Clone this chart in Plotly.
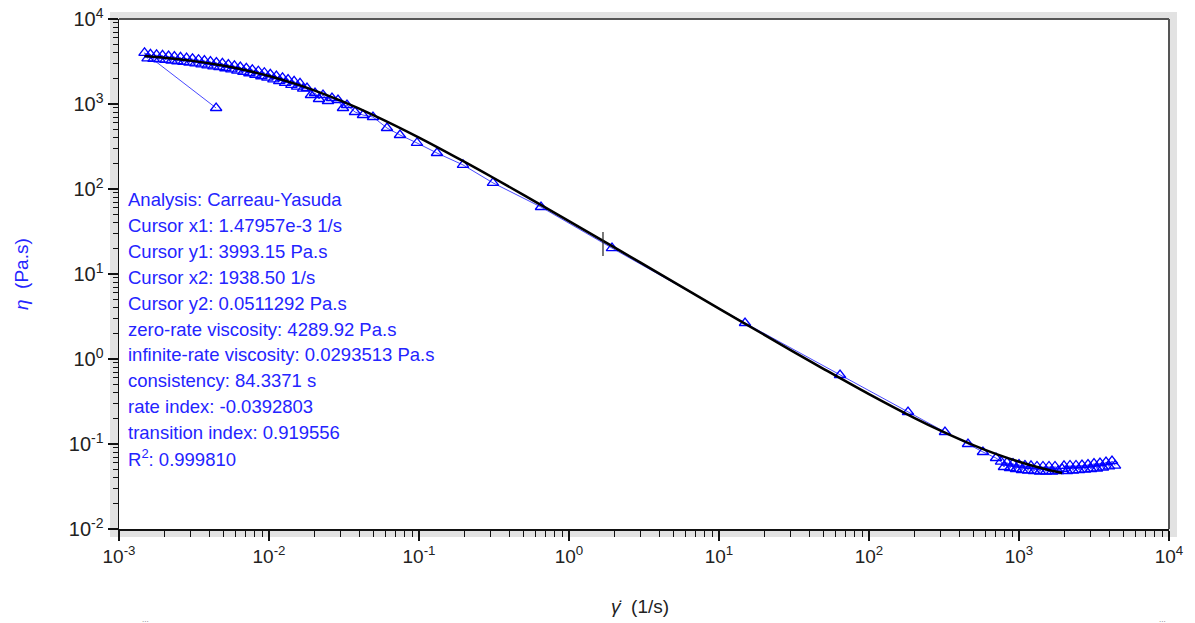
import plotly.graph_objects as go

# ---------------- data ----------------
# measured viscosity (blue triangles), in measurement order
rate = [4.44e-3,
        1.47957e-3, 1.55e-3, 1.62e-3, 1.70e-3, 1.78e-3, 1.86e-3, 1.95e-3, 2.04e-3, 2.14e-3, 2.24e-3,
        2.34e-3, 2.45e-3, 2.57e-3, 2.69e-3, 2.82e-3, 2.95e-3, 3.09e-3, 3.23e-3, 3.39e-3, 3.55e-3,
        3.71e-3, 3.89e-3, 4.07e-3, 4.26e-3, 4.46e-3, 4.67e-3, 4.89e-3, 5.12e-3, 5.36e-3, 5.61e-3,
        5.88e-3, 6.15e-3, 6.44e-3, 6.75e-3, 7.06e-3, 7.40e-3, 7.74e-3, 8.11e-3, 8.49e-3, 8.89e-3,
        9.31e-3, 9.75e-3, 10.2e-3, 10.7e-3, 11.2e-3, 11.7e-3, 12.3e-3, 12.8e-3, 13.4e-3, 14.1e-3,
        14.7e-3, 15.4e-3, 16.1e-3, 16.9e-3,
        0.01792, 0.01905, 0.02026, 0.02154, 0.02291, 0.02473, 0.0263, 0.02884, 0.03113, 0.03311,
        0.03745, 0.04233, 0.04935, 0.0612, 0.07468, 0.09697, 0.1318, 0.1965, 0.3113, 0.6506,
        1.935, 14.91, 64.09, 182, 321, 457, 575, 703,
        759, 794, 832, 871, 912, 955, 1000, 1047, 1096, 1148, 1202, 1259, 1318, 1380, 1445,
        1514, 1585, 1660, 1738, 1820, 1938.5, 1995, 2089, 2188, 2291, 2399, 2512, 2630, 2754,
        2884, 3020, 3162, 3311, 3467, 3631, 3802, 3981, 4169, 4365]
eta = [897,
       3993.15, 3445, 3839, 3398, 3785, 3353, 3734, 3303, 3670, 3242,
       3605, 3185, 3538, 3126, 3474, 3069, 3406, 2999, 3319, 2922,
       3237, 2849, 3157, 2778, 3078, 2709, 3001, 2635, 2910, 2552,
       2814, 2469, 2724, 2388, 2634, 2301, 2530, 2210, 2430, 2122,
       2334, 2039, 2239, 1946, 2131, 1856, 2028, 1770, 1939, 1682,
       1845, 1602, 1748, 1514,
       1543, 1276, 1347, 1145, 1276, 1085, 1177, 1115, 897, 973,
       805, 742, 703, 522, 432, 348, 265, 192, 118, 61.4,
       20.2, 2.652, 0.648, 0.2379, 0.1384, 0.100, 0.0805, 0.0684,
       0.0622, 0.0536, 0.0606, 0.0522, 0.0590, 0.0508, 0.0574, 0.0494, 0.0559, 0.0488,
       0.0552, 0.0481, 0.0544, 0.0475, 0.0544, 0.0475, 0.0544, 0.0475, 0.0544, 0.0481,
       0.0511292, 0.0552, 0.0481, 0.0559, 0.0488, 0.0559, 0.0494, 0.0566, 0.0501,
       0.0574, 0.0508, 0.0590, 0.0515, 0.0598, 0.0529, 0.0614, 0.0544, 0.0631, 0.0558]

# Carreau-Yasuda fit curve (black)
fit_rate = [1.47957e-3, 2e-3, 3e-3, 5e-3, 7e-3, 1e-2, 1.5e-2, 2e-2, 3e-2, 5e-2, 0.1, 0.2, 0.3,
            0.5, 1, 3, 10, 30, 50, 100, 200, 300, 500, 700, 1000, 1400, 1938.5]
fit_eta = [3672, 3509, 3238, 2814, 2494, 2134, 1723, 1446, 1095, 736.3, 403.1, 209.9, 141.2,
           84.75, 41.95, 13.58, 3.922, 1.274, 0.7619, 0.3858, 0.2028, 0.1433, 0.0963, 0.0765,
           0.0619, 0.0523, 0.0457]

# cursor marker on the fit
cursor_rate = [1.685, 1.685]
cursor_eta = [16.3, 31.2]

x_tickvals = [1e-3, 1e-2, 1e-1, 1e0, 1e1, 1e2, 1e3, 1e4]
x_ticktext = ["10<sup>-3</sup>", "10<sup>-2</sup>", "10<sup>-1</sup>", "10<sup>0</sup>",
              "10<sup>1</sup>", "10<sup>2</sup>", "10<sup>3</sup>", "10<sup>4</sup>"]
y_tickvals = [1e-2, 1e-1, 1e0, 1e1, 1e2, 1e3, 1e4]
y_ticktext = ["10<sup>-2</sup>", "10<sup>-1</sup>", "10<sup>0</sup>", "10<sup>1</sup>",
              "10<sup>2</sup>", "10<sup>3</sup>", "10<sup>4</sup>"]

analysis_lines = [
    "Analysis: Carreau-Yasuda",
    "Cursor x1: 1.47957e-3 1/s",
    "Cursor y1: 3993.15 Pa.s",
    "Cursor x2: 1938.50 1/s",
    "Cursor y2: 0.0511292 Pa.s",
    "zero-rate viscosity: 4289.92 Pa.s",
    "infinite-rate viscosity: 0.0293513 Pa.s",
    "consistency: 84.3371 s",
    "rate index: -0.0392803",
    "transition index: 0.919556",
    "R<sup>2</sup>: 0.999810",
]

# ---------------- figure ----------------
FONT = "Liberation Sans, Arial, sans-serif"
BLUE = "#0000ff"
TEXTBLUE = "#2424ff"

W, H = 1195, 623
L, R, T, B = 119, 26, 19, 94
PW, PH = W - L - R, H - T - B


def px_x(p):
    return (p - L) / PW


def px_y(p):
    return (H - B - p) / PH


fig = go.Figure()

fig.add_trace(go.Scatter(
    x=rate, y=eta, mode="lines+markers",
    line=dict(color="rgba(40,40,255,0.85)", width=1),
    marker=dict(symbol="triangle-up-open", size=10, color=BLUE, line=dict(width=1.3, color=BLUE)),
    hoverinfo="skip", showlegend=False))

fig.add_trace(go.Scatter(
    x=fit_rate, y=fit_eta, mode="lines",
    line=dict(color="black", width=2.5, shape="spline", smoothing=1.0),
    hoverinfo="skip", showlegend=False))

fig.add_trace(go.Scatter(
    x=cursor_rate, y=cursor_eta, mode="lines",
    line=dict(color="#222", width=1.2),
    hoverinfo="skip", showlegend=False))

minor_x = [m * 10 ** e for e in range(-3, 4) for m in range(2, 10)]
minor_y = [m * 10 ** e for e in range(-2, 4) for m in range(2, 10)]

fig.update_xaxes(
    type="log", range=[-3, 4], tickmode="array", tickvals=x_tickvals, ticktext=x_ticktext,
    ticks="outside", ticklen=10, tickwidth=1.3, tickcolor="#111",
    showline=True, linecolor="#111", linewidth=1.5, showgrid=False, zeroline=False,
    tickfont=dict(family=FONT, size=19, color="#222"),
    minor=dict(tickmode="array", tickvals=minor_x, ticks="outside", ticklen=6,
               tickwidth=1.2, tickcolor="#111", showgrid=False),
    fixedrange=True)
fig.update_yaxes(
    type="log", range=[-2, 4], tickmode="array", tickvals=y_tickvals, ticktext=y_ticktext,
    ticks="outside", ticklen=10, tickwidth=1.3, tickcolor="#111",
    showline=True, linecolor="#111", linewidth=1.5, showgrid=False, zeroline=False,
    tickfont=dict(family=FONT, size=20, color="#222"),
    minor=dict(tickmode="array", tickvals=minor_y, ticks="outside", ticklen=5,
               tickwidth=1.2, tickcolor="#111", showgrid=False),
    fixedrange=True)

shapes = [
    # grey shadow frame
    dict(type="rect", xref="paper", yref="paper", layer="below",
         x0=px_x(110), x1=px_x(1177), y0=px_y(537), y1=px_y(12),
         fillcolor="#e2e2e2", line=dict(width=0)),
    dict(type="rect", xref="paper", yref="paper", layer="below",
         x0=0, x1=1, y0=0, y1=1, fillcolor="white", line=dict(width=0)),
    # top and right frame lines
    dict(type="line", xref="paper", yref="paper", x0=0, x1=1, y0=1, y1=1,
         line=dict(color="#555", width=2)),
    dict(type="line", xref="paper", yref="paper", x0=1, x1=1, y0=0, y1=1,
         line=dict(color="#555", width=2)),
]

annotations = []
for i, t in enumerate(analysis_lines):
    annotations.append(dict(
        text=t, xref="paper", yref="paper", x=px_x(126), y=px_y(200 + 25.8 * i),
        xanchor="left", yanchor="middle", showarrow=False, align="left",
        font=dict(family=FONT, size=18.5, color=TEXTBLUE)))

annotations.append(dict(
    text="<i>γ̇</i>  (1/s)", xref="paper", yref="paper", x=px_x(640), y=px_y(606),
    xanchor="center", yanchor="middle", showarrow=False,
    font=dict(family=FONT, size=19, color="#222")))
annotations.append(dict(
    text="<i>η</i>  (Pa.s)", xref="paper", yref="paper", x=px_x(21), y=px_y(274),
    xanchor="center", yanchor="middle", showarrow=False, textangle=-90,
    font=dict(family=FONT, size=19, color=TEXTBLUE)))
for xp in (145, 1162):
    annotations.append(dict(
        text="...", xref="paper", yref="paper", x=px_x(xp), y=px_y(619),
        xanchor="center", yanchor="middle", showarrow=False,
        font=dict(family=FONT, size=8, color="#777")))

fig.update_layout(
    width=W, height=H, margin=dict(l=L, r=R, t=T, b=B, autoexpand=False),
    paper_bgcolor="white", plot_bgcolor="rgba(0,0,0,0)",
    shapes=shapes, annotations=annotations, hovermode=False,
    font=dict(family=FONT))

fig.write_html("out.html", config={"displayModeBar": False, "staticPlot": True})
